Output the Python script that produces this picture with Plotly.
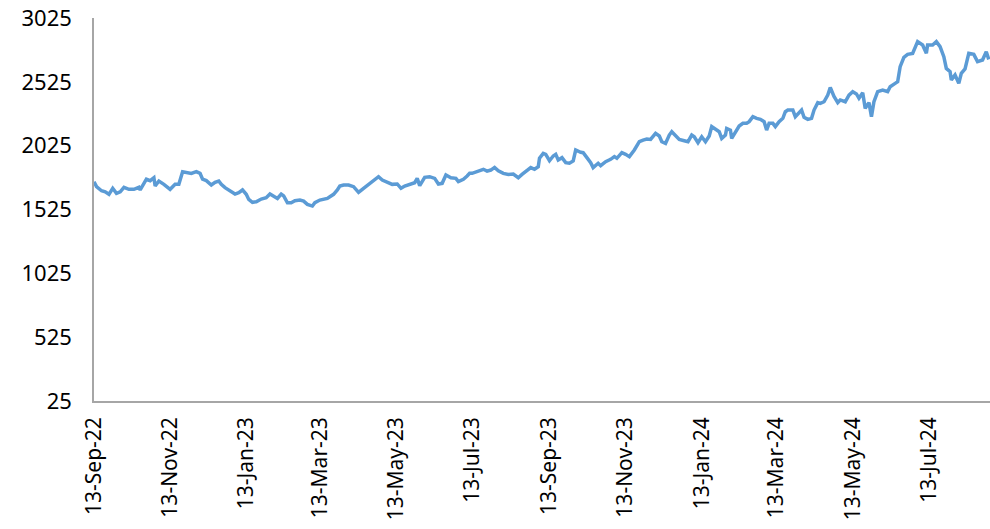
import plotly.graph_objects as go

dates = [
    "2022-09-13","2022-09-15","2022-09-19","2022-09-22","2022-09-25","2022-09-28","2022-10-01","2022-10-04",
    "2022-10-07","2022-10-11","2022-10-15","2022-10-19","2022-10-20","2022-10-23","2022-10-25","2022-10-28",
    "2022-10-31","2022-11-01","2022-11-04","2022-11-08","2022-11-13","2022-11-17","2022-11-20","2022-11-23",
    "2022-11-26","2022-11-30","2022-12-04","2022-12-07","2022-12-09","2022-12-12","2022-12-16","2022-12-19",
    "2022-12-22","2022-12-24","2022-12-27","2022-12-31","2023-01-04","2023-01-07","2023-01-10","2023-01-13",
    "2023-01-15","2023-01-18","2023-01-21","2023-01-25","2023-01-29","2023-02-01","2023-02-04","2023-02-07",
    "2023-02-10","2023-02-12","2023-02-15","2023-02-18","2023-02-21","2023-02-25","2023-02-28","2023-03-03",
    "2023-03-07","2023-03-09","2023-03-13","2023-03-16","2023-03-19","2023-03-21","2023-03-24","2023-03-27",
    "2023-03-29","2023-04-01","2023-04-05","2023-04-09","2023-04-13","2023-04-17","2023-04-21","2023-04-25",
    "2023-04-29","2023-05-02","2023-05-06","2023-05-10","2023-05-14","2023-05-17","2023-05-20","2023-05-24",
    "2023-05-28","2023-05-30","2023-06-01","2023-06-05","2023-06-09","2023-06-13","2023-06-16","2023-06-19",
    "2023-06-22","2023-06-26","2023-06-30","2023-07-02","2023-07-06","2023-07-09","2023-07-11","2023-07-13",
    "2023-07-18","2023-07-22","2023-07-25","2023-07-28","2023-07-31","2023-08-03","2023-08-07","2023-08-11",
    "2023-08-15","2023-08-19","2023-08-22","2023-08-26","2023-08-29","2023-09-01","2023-09-04","2023-09-05",
    "2023-09-08","2023-09-10","2023-09-13","2023-09-16","2023-09-18","2023-09-20","2023-09-23","2023-09-26",
    "2023-09-29","2023-10-02","2023-10-04","2023-10-08","2023-10-10","2023-10-13","2023-10-16","2023-10-18",
    "2023-10-22","2023-10-24","2023-10-28","2023-11-01","2023-11-04","2023-11-06","2023-11-10","2023-11-13",
    "2023-11-16","2023-11-20","2023-11-24","2023-11-27","2023-11-30","2023-12-03","2023-12-07","2023-12-10",
    "2023-12-12","2023-12-15","2023-12-18","2023-12-20","2023-12-23","2023-12-26","2023-12-30","2024-01-02",
    "2024-01-05","2024-01-07","2024-01-10","2024-01-13","2024-01-16","2024-01-19","2024-01-21","2024-01-24",
    "2024-01-27","2024-01-29","2024-02-01","2024-02-02","2024-02-05","2024-02-06","2024-02-09","2024-02-12",
    "2024-02-15","2024-02-18","2024-02-20","2024-02-23","2024-02-26","2024-02-29","2024-03-03","2024-03-05",
    "2024-03-07","2024-03-10","2024-03-12","2024-03-15","2024-03-18","2024-03-20","2024-03-22","2024-03-26",
    "2024-03-28","2024-03-31","2024-04-02","2024-04-04","2024-04-07","2024-04-10","2024-04-12","2024-04-15",
    "2024-04-17","2024-04-20","2024-04-23","2024-04-25","2024-04-28","2024-05-01","2024-05-03","2024-05-07",
    "2024-05-10","2024-05-13","2024-05-16","2024-05-18","2024-05-21","2024-05-23","2024-05-26","2024-05-28",
    "2024-05-30","2024-06-02","2024-06-06","2024-06-10","2024-06-12","2024-06-16","2024-06-18","2024-06-20",
    "2024-06-23","2024-06-26","2024-06-30","2024-07-04","2024-07-08","2024-07-11","2024-07-12","2024-07-16",
    "2024-07-19","2024-07-22","2024-07-25","2024-07-27","2024-07-30","2024-07-31","2024-08-03","2024-08-06",
    "2024-08-08","2024-08-11","2024-08-14","2024-08-18","2024-08-21","2024-08-25","2024-08-28","2024-08-30",
]

values = [
    1743,1704,1672,1664,1644,1691,1652,1664,
    1699,1683,1683,1699,1678,1730,1762,1751,
    1774,1709,1748,1722,1683,1722,1722,1821,
    1816,1808,1821,1808,1762,1751,1717,1738,
    1748,1722,1696,1672,1646,1657,1678,1644,
    1604,1581,1586,1607,1617,1646,1631,1612,
    1646,1631,1578,1578,1594,1599,1591,1565,
    1552,1578,1599,1607,1612,1625,1644,1678,
    1709,1717,1717,1704,1659,1691,1722,1748,
    1782,1756,1738,1722,1725,1691,1709,1722,
    1735,1769,1712,1777,1782,1769,1725,1730,
    1795,1774,1769,1743,1762,1787,1808,1808,
    1829,1840,1826,1834,1855,1829,1808,1800,
    1803,1774,1800,1829,1853,1840,1860,1926,
    1965,1957,1907,1944,1957,1913,1931,1892,
    1887,1905,1991,1973,1970,1931,1892,1853,
    1887,1868,1900,1918,1939,1926,1970,1957,
    1939,1991,2056,2069,2077,2074,2122,2101,
    2056,2043,2108,2134,2108,2074,2064,2056,
    2108,2095,2048,2095,2056,2101,2174,2150,
    2134,2082,2108,2160,2147,2082,2134,2179,
    2200,2200,2213,2252,2239,2231,2213,2147,
    2200,2200,2174,2213,2239,2291,2304,2304,
    2252,2278,2304,2247,2231,2239,2304,2362,
    2356,2369,2421,2481,2411,2362,2383,2369,
    2421,2448,2430,2396,2440,2317,2362,2252,
    2369,2448,2461,2448,2487,2513,2526,2644,
    2717,2740,2748,2840,2814,2748,2814,2814,
    2840,2801,2722,2630,2605,2540,2579,2513,
    2592,2626,2748,2740,2683,2696,2761,2701,
]

x_ticks = ["2022-09-13","2022-11-13","2023-01-13","2023-03-13","2023-05-13","2023-07-13",
           "2023-09-13","2023-11-13","2024-01-13","2024-03-13","2024-05-13","2024-07-13"]
y_ticks = [25, 525, 1025, 1525, 2025, 2525, 3025]

fig = go.Figure()
fig.add_trace(go.Scatter(
    x=dates, y=values, mode="lines",
    line=dict(color="#5b9bd5", width=3.5),
    hoverinfo="x+y", showlegend=False,
))

font_family = "Noto Sans"
fig.update_layout(
    width=990, height=529,
    margin=dict(l=94, r=0, t=18, b=128, autoexpand=False),
    paper_bgcolor="white", plot_bgcolor="white",
    font=dict(family=font_family, size=20, color="#000000"),
    showlegend=False,
)
fig.update_xaxes(
    type="date", automargin=False,
    range=["2022-09-13", "2024-08-31"],
    tickvals=x_ticks, tickformat="%d-%b-%y", tickangle=-90,
    showgrid=False, zeroline=False,
    showline=True, linecolor="#a6a6a6", linewidth=1.5,
    ticks="", ticklabelstandoff=6,
    tickfont=dict(family=font_family, size=21, color="#000000"),
)
fig.update_yaxes(
    range=[25, 3025], automargin=False,
    tickvals=y_ticks, ticktext=[str(v) for v in y_ticks],
    showgrid=False, zeroline=False,
    showline=True, linecolor="#a6a6a6", linewidth=1.5,
    ticks="", ticklabelstandoff=16, ticklabeloverflow="allow",
    tickfont=dict(family=font_family, size=22, color="#000000"),
)

fig.write_html(
    "out.html",
    config={"displayModeBar": False},
    post_script="document.body.style.margin='0px';document.body.style.overflow='hidden';",
)
